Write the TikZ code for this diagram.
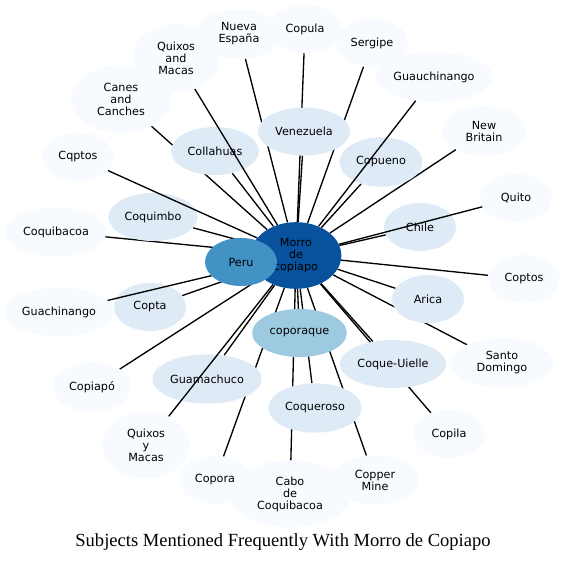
\documentclass[tikz,border=0pt]{standalone}
\usepackage{fontspec}
\setmainfont{Liberation Serif}
\newfontfamily\lblfont{DejaVu Sans}
\usepackage{tikz}
\usetikzlibrary{shapes.geometric}

\definecolor{pale}{HTML}{F7FBFF}
\definecolor{light}{HTML}{DEEBF7}
\definecolor{mid}{HTML}{9ECAE1}
\definecolor{strong}{HTML}{4292C6}
\definecolor{deep}{HTML}{08519C}

\pgfdeclarelayer{under}
\pgfdeclarelayer{over}
\pgfsetlayers{under,main,over}

\begin{document}
\begin{tikzpicture}[x=0.75pt,y=-0.75pt,
    topic/.style={ellipse,inner sep=0pt,minimum width=54pt,minimum height=36pt,
                  align=center,font=\lblfont\fontsize{8.4}{9}\selectfont},
    outer/.style={topic,fill=pale},
    inner/.style={topic,fill=light},
    link/.style={line width=1pt,black}]
    \useasboundingbox (0,0) rectangle (566,563);
    % hub and the two nodes that sit over the lines
    \begin{pgfonlayer}{over}
    \node[topic,fill=mid,minimum width=71pt] (copo) at (299.5,333) {coporaque};
    \node[topic,fill=deep,minimum width=68pt,minimum height=50pt] (morro) at (296,255.5) {Morro\\de\\copiapo};
    \node[topic,fill=strong] (peru) at (241,262) {Peru};
    \end{pgfonlayer}
    % outer ring
    \node[outer,minimum width=66pt,minimum height=37pt] (nesp) at (239,34) {Nueva\\España};
    \node[outer,minimum width=65pt,minimum height=51pt] (qam) at (176,58) {Quixos\\and\\Macas};
    \node[outer,minimum width=75pt,minimum height=51pt] (canes) at (121,99) {Canes\\and\\Canches};
    \node[outer] (cqptos) at (78,157) {Cqptos};
    \node[outer] (copula) at (305,29) {Copula};
    \node[outer] (sergipe) at (372,43) {Sergipe};
    \node[outer,minimum width=88pt,minimum height=37pt] (guau) at (434,77) {Guauchinango};
    \node[outer,minimum width=63pt,minimum height=37pt] (nbrit) at (484,131) {New\\Britain};
    \node[outer] (quito) at (516,198) {Quito};
    \node[outer,minimum width=75pt,minimum height=37pt] (coqb) at (56,232) {Coquibacoa};
    \node[outer,minimum width=82pt,minimum height=37pt] (guach) at (59,312) {Guachinango};
    \node[outer] (coptos) at (524,279) {Coptos};
    \node[outer,minimum width=77pt,minimum height=37pt] (sdom) at (502,363) {Santo\\Domingo};
    \node[outer,minimum width=59pt,minimum height=37pt] (copiapo) at (92,387) {Copiapó};
    \node[outer,minimum width=65pt,minimum height=50pt] (qym) at (146,445) {Quixos\\y\\Macas};
    \node[outer,minimum width=92pt,minimum height=50pt] (cabo) at (290,494) {Cabo\\de\\Coquibacoa};
    \node[outer] (copora) at (215,480) {Copora};
    \node[outer] (copila) at (449,434) {Copila};
    \node[outer,minimum width=66pt,minimum height=37pt] (cmine) at (375,480) {Copper\\Mine};
    % inner ring
    \node[inner,minimum width=66pt] (colla) at (215,151) {Collahuas};
    \node[inner,minimum width=69pt] (venez) at (304,131.5) {Venezuela};
    \node[inner,minimum width=62pt,minimum height=37pt] (copue) at (381,162) {Copueno};
    \node[inner,minimum width=67pt] (coqm) at (153,217) {Coquimbo};
    \node[inner] (copta) at (150,307) {Copta};
    \node[inner] (chile) at (420,227) {Chile};
    \node[inner] (arica) at (428,299) {Arica};
    \node[inner,minimum width=82pt,minimum height=37pt] (guam) at (207,379) {Guamachuco};
    \node[inner,minimum width=80pt] (cuie) at (393,364) {Coque-Uielle};
    \node[inner,minimum width=70pt,minimum height=37pt] (coqs) at (315,408) {Coqueroso};
    % lines hidden by the inner ring
    \begin{pgfonlayer}{under}
    \foreach \t in {peru,copo,nesp,canes,copula,sergipe,nbrit,coqb,coptos,sdom,copiapo,
                    cabo,copora,copila,cmine,colla,venez,copue,coqm,copta,chile,arica,
                    guam,cuie,coqs}
        \draw[link] (morro) -- (\t);
    \end{pgfonlayer}
    % lines drawn across the inner ring
    \foreach \t in {qam,guau,quito,guach,qym,cqptos}
        \draw[link] (morro) -- (\t);
    \node[font=\fontsize{13.9}{16}\selectfont] (title) at (283,542) {Subjects Mentioned Frequently With Morro de Copiapo};
\end{tikzpicture}
\end{document}
